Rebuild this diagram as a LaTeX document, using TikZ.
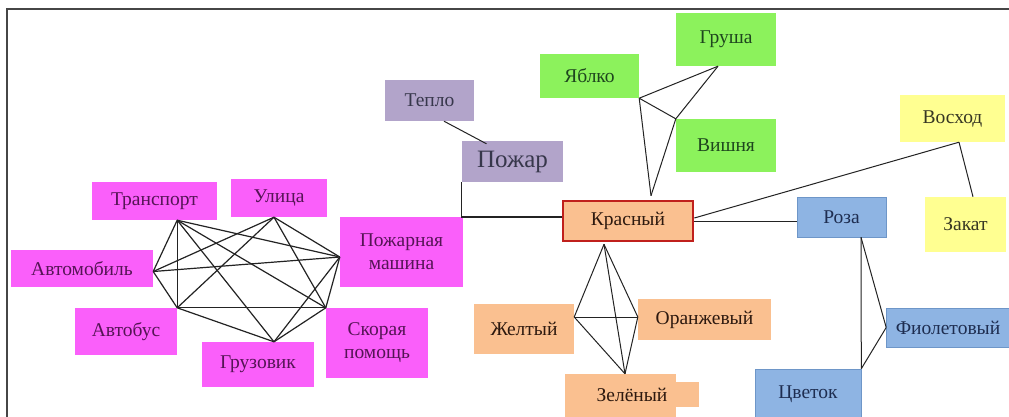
\documentclass[tikz,border=0pt]{standalone}
\usepackage{fontspec}
\setmainfont{Liberation Serif}
\definecolor{cMag}{RGB}{250,95,250}
\definecolor{tMag}{RGB}{85,20,85}
\definecolor{cPur}{RGB}{178,164,202}
\definecolor{tPur}{RGB}{55,55,75}
\definecolor{cGrn}{RGB}{140,242,92}
\definecolor{tGrn}{RGB}{30,70,30}
\definecolor{cPea}{RGB}{250,192,144}
\definecolor{tPea}{RGB}{45,25,15}
\definecolor{cRed}{RGB}{192,32,28}
\definecolor{cYel}{RGB}{255,255,145}
\definecolor{tYel}{RGB}{55,55,35}
\definecolor{cBlu}{RGB}{142,180,227}
\definecolor{dBlu}{RGB}{110,150,200}
\definecolor{tBlu}{RGB}{30,45,80}
\definecolor{cLine}{RGB}{35,35,35}
\definecolor{cFrame}{RGB}{70,70,70}
\begin{document}
\begin{tikzpicture}[x=1pt,y=-1pt,
  box/.style={rectangle, inner sep=0pt, align=center, font=\fontsize{19.5}{23}\selectfont},
  mag/.style={box, fill=cMag, text=tMag},
  pur/.style={box, fill=cPur, text=tPur},
  grn/.style={box, fill=cGrn, text=tGrn},
  pea/.style={box, fill=cPea, text=tPea},
  yel/.style={box, fill=cYel, text=tYel},
  blu/.style={box, fill=cBlu, draw=dBlu, line width=0.6pt, text=tBlu},
  link/.style={draw=cLine, line width=1.2pt},
  thin link/.style={draw=cLine, line width=1pt}]
\useasboundingbox (0,0) rectangle (1009,416);
\fill[white] (0,0) rectangle (1009,416);
% frame
\draw[cFrame, line width=2pt] (7,417) -- (7,9) -- (1010,9);

% ---------- left cluster ----------
\node[mag, minimum width=125pt, minimum height=38pt] (tr) at (154.5,201) {Транспорт};
\node[mag, minimum width=96pt, minimum height=38pt] (ul) at (279,198) {Улица};
\node[mag, minimum width=123pt, minimum height=70pt] (pm) at (401.5,252) {Пожарная\\машина};
\node[mag, minimum width=142pt, minimum height=37pt] (av) at (82,268.5) {Автомобиль};
\node[mag, minimum width=102pt, minimum height=47pt] (ab) at (126,331.5) {Автобус};
\node[mag, minimum width=112pt, minimum height=45pt] (gr) at (258,364.5) {Грузовик};
\node[mag, minimum width=102pt, minimum height=70pt] (sk) at (377,343) {Скорая\\помощь};

\coordinate (pT) at ([xshift=-40pt]tr.south east);
\coordinate (pU) at ([xshift=-5pt]ul.south);
\coordinate (pPM) at ([yshift=-5pt]pm.west);
\coordinate (pAV) at ([yshift=-3pt]av.east);
\coordinate (pAB) at (ab.north east);
\coordinate (pGR) at ([xshift=16pt]gr.north);
\coordinate (pSK) at (sk.north west);

\draw[link] (pT) -- (pAV);
\draw[link] (pT) -- (pAB);
\draw[link] (pT) -- (pPM);
\draw[link] (pT) -- (pSK);
\draw[link] (pT) -- (pGR);
\draw[link] (pU) -- (pAV);
\draw[link] (pU) -- (pAB);
\draw[link] (pU) -- (pSK);
\draw[link] (pU) -- (pPM);
\draw[link] (pAV) -- (pPM);
\draw[link] (pAV) -- (pAB);
\draw[link] (pAB) -- (pSK);
\draw[link] (pAB) -- (pGR);
\draw[link] (pGR) -- (pSK);
\draw[link] (pGR) -- (pPM);
\draw[link] (pSK) -- (pPM);

% ---------- Тепло / Пожар ----------
\node[pur, minimum width=89pt, minimum height=41pt] (te) at (429.5,100.5) {Тепло};
\node[pur, minimum width=101pt, minimum height=41pt, font=\fontsize{25}{27}\selectfont] (po) at (512.5,161.5) {Пожар};

% ---------- Красный ----------
\node[pea, draw=cRed, line width=2.6pt, minimum width=130pt, minimum height=40pt] (kr) at (628,221) {Красный};

\draw[thin link] ([xshift=14.5pt]te.south) -- ([xshift=-26pt,yshift=-3pt]po.north);
\draw[link] (po.south west) |- ([yshift=4pt]kr.west);

% ---------- fruits ----------
\node[grn, minimum width=99pt, minimum height=44pt] (ya) at (589.5,76) {Яблко};
\node[grn, minimum width=100pt, minimum height=53pt] (gu) at (726,39.5) {Груша};
\node[grn, minimum width=100pt, minimum height=53pt] (vi) at (726,145.5) {Вишня};
\coordinate (pYA) at (ya.south east);
\coordinate (pGU) at ([xshift=-8pt]gu.south);
\coordinate (pVI) at (vi.north west);
\coordinate (pKRt) at ([xshift=23pt,yshift=4pt]kr.north);
\draw[thin link] (pYA) -- (pGU);
\draw[thin link] (pYA) -- (pVI);
\draw[thin link] (pGU) -- (pVI);
\draw[thin link] (pYA) -- (pKRt);
\draw[thin link] (pVI) -- (pKRt);

% ---------- Восход / Закат ----------
\node[yel, minimum width=105pt, minimum height=47pt] (vo) at (952.5,118.5) {Восход};
\node[yel, minimum width=81pt, minimum height=55pt] (za) at (965.5,224.5) {Закат};
\draw[thin link] ([yshift=3pt]kr.east) -- ([xshift=6.5pt]vo.south);
\draw[thin link] ([xshift=6.5pt]vo.south) -- ([xshift=7.5pt]za.north);

% ---------- Роза / Фиолетовый / Цветок ----------
\node[blu, minimum width=89pt, minimum height=40pt] (ro) at (841.5,217) {Роза};
\node[blu, minimum width=123pt, minimum height=39pt] (fi) at (948,327.5) {Фиолетовый};
\node[blu, minimum width=106pt, minimum height=50pt] (cv) at (808,394) {Цветок};
\draw[thin link] (kr.east) -- (kr.east -| ro.west);
\coordinate (pRO) at ([xshift=19.5pt]ro.south);
\draw[thin link] (pRO) -- (cv.north east);
\draw[thin link] (pRO) -- (fi.west);
\draw[thin link] (fi.west) -- (cv.north east);

% ---------- colours below Красный ----------
\node[pea, minimum width=100pt, minimum height=50pt] (zh) at (524,329) {Желтый};
\node[pea, minimum width=133pt, minimum height=41pt] (or) at (704.5,319.5) {Оранжевый};
\fill[cPea] (565,374) rectangle (676,417);
\fill[cPea] (676,382) rectangle (699,407);
\node[box, text=tPea, minimum width=134pt, minimum height=42pt] (ze) at (632,395) {Зелёный};
\coordinate (pKRb) at ([xshift=-24pt,yshift=-2pt]kr.south);
\coordinate (pZH) at ([yshift=12pt]zh.east);
\coordinate (pOR) at ([yshift=2.5pt]or.west);
\coordinate (pZE) at ([xshift=-7pt]ze.north);
\draw[thin link] (pKRb) -- (pZH);
\draw[thin link] (pKRb) -- (pOR);
\draw[thin link] (pKRb) -- (pZE);
\draw[thin link] (pZH) -- (pOR);
\draw[thin link] (pZH) -- (pZE);
\draw[thin link] (pOR) -- (pZE);
\end{tikzpicture}
\end{document}
